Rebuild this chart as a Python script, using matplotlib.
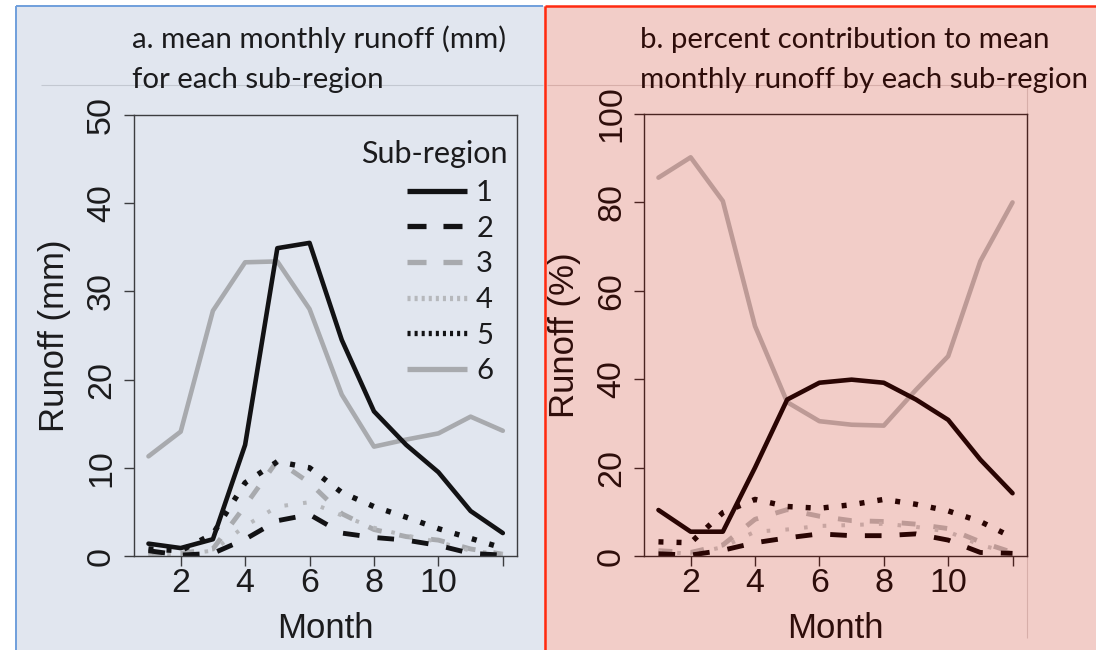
import matplotlib
matplotlib.use("Agg")
import matplotlib.pyplot as plt
from matplotlib.lines import Line2D
from matplotlib.patches import Rectangle

# ---------------------------------------------------------------- data
months = list(range(1, 13))
regions = ["1", "2", "3", "4", "5", "6"]

# mean monthly runoff (mm) per sub-region
mm_r1 = [1.4, 0.9, 1.9, 12.6, 34.9, 35.5, 24.5, 16.4, 12.6, 9.5, 5.1, 2.6]
mm_r2 = [0.6, 0.1, 0.3, 1.9, 4.0, 4.7, 2.6, 2.1, 1.8, 1.2, 0.3, 0.1]
mm_r3 = [0.3, 0.3, 0.8, 5.7, 10.8, 8.3, 4.8, 3.0, 2.2, 1.8, 0.8, 0.2]
mm_r4 = [0.2, 0.2, 0.6, 3.4, 5.6, 6.1, 4.6, 3.2, 2.3, 1.6, 0.6, 0.2]
mm_r5 = [0.8, 0.6, 2.5, 8.3, 10.7, 10.0, 7.2, 5.6, 4.4, 3.1, 2.0, 0.9]
mm_r6 = [11.3, 14.1, 27.8, 33.3, 33.4, 28.0, 18.3, 12.4, 13.2, 13.9, 15.8, 14.2]

# percent contribution to mean monthly runoff per sub-region
pct_r1 = [10.4, 5.5, 5.5, 20.0, 35.4, 39.2, 39.9, 39.2, 35.4, 30.8, 21.8, 14.2]
pct_r2 = [0.5, 0.2, 1.3, 3.0, 4.1, 5.0, 4.6, 4.6, 5.0, 3.6, 0.8, 0.6]
pct_r3 = [1.2, 0.8, 2.5, 8.3, 10.5, 9.0, 8.0, 7.8, 7.2, 6.2, 3.2, 0.8]
pct_r4 = [1.0, 0.5, 2.0, 5.5, 6.0, 6.8, 7.0, 7.3, 6.6, 5.5, 2.5, 0.6]
pct_r5 = [3.2, 3.0, 9.8, 12.8, 11.2, 10.8, 11.6, 12.8, 11.7, 10.2, 7.8, 4.2]
pct_r6 = [85.6, 90.2, 80.3, 52.0, 34.8, 30.5, 29.7, 29.5, 37.6, 45.2, 66.7, 80.0]

x_ticks = [2, 4, 6, 8, 10, 12]
x_tick_labels = ["2", "4", "6", "8", "10", ""]
y_ticks_mm = [0, 10, 20, 30, 40, 50]
y_ticks_pct = [0, 20, 40, 60, 80, 100]

title_a = ["a. mean monthly runoff (mm)", "for each sub-region"]
title_b = ["b. percent contribution to mean", "monthly runoff by each sub-region"]
x_label = "Month"
y_label_a = "Runoff (mm)"
y_label_b = "Runoff (%)"
legend_title = "Sub-region"

# ---------------------------------------------------------------- layout
W, H, DPI = 1096, 650, 100
plt.rcParams["lines.scale_dashes"] = False
AX_FONT = ["Liberation Sans", "DejaVu Sans"]
TX_FONT = ["Lato", "DejaVu Sans"]


def fx(px):
    return px / W


def fy(py):
    return 1.0 - py / H


fig = plt.figure(figsize=(W / DPI, H / DPI), dpi=DPI, facecolor="white")

BG_A, BG_B = "#e1e6ef", "#f2cdc8"
fig.patches.append(Rectangle((fx(16), 0), fx(544) - fx(16), fy(6), transform=fig.transFigure,
                             facecolor=BG_A, edgecolor="none", zorder=-10))
fig.patches.append(Rectangle((fx(544), 0), 1 - fx(544), fy(6), transform=fig.transFigure,
                             facecolor=BG_B, edgecolor="none", zorder=-10))


def fline(xs, ys, color, lw):
    fig.add_artist(Line2D([fx(v) for v in xs], [fy(v) for v in ys], transform=fig.transFigure,
                          color=color, lw=lw, solid_capstyle="butt", zorder=-5))


# faint frame of the pasted figures
fline([41, 543], [85, 85], "#c3c8d1", 0.8)
fline([547, 1027], [85, 85], "#d7aea9", 0.8)
fline([1027, 1027], [85, 638], "#d7aea9", 0.8)
# panel borders
fline([16, 16], [6, 650], "#6f9fdc", 1.4)
fline([16, 543], [6, 6], "#6f9fdc", 1.4)
fline([545, 545], [6, 650], "#ff2a10", 1.8)
fline([545, 1096], [6, 6], "#ff2a10", 1.8)

# line styles: (dashes in points or None, linewidth)
styles = {
    "1": (None, 3.3),
    "2": ((12.0, 13.0), 3.5),
    "3": ((10.0, 13.0), 3.5),
    "4": ((2.6, 10.9), 2.9),
    "5": ((3.6, 9.4), 3.9),
    "6": (None, 3.3),
}
legend_dashes = {"2": (13.7, 12.2), "3": (13.7, 12.2), "4": (2.2, 2.9), "5": (2.2, 2.9)}


def panel(box, series, yticks, ylim, pal, ylab, show_legend):
    left, top, right, bottom = box
    ax = fig.add_axes([fx(left), fy(bottom), fx(right) - fx(left), fy(top) - fy(bottom)])
    ax.set_zorder(2)
    ax.set_facecolor("none")
    order = ["6", "3", "4", "2", "5", "1"]
    for key in order:
        dashes, lw = styles[key]
        col = pal["line"][key]
        if dashes is None:
            ax.plot(months, series[key], color=col, lw=lw, solid_joinstyle="round",
                    solid_capstyle="round")
        else:
            ax.plot(months, series[key], color=col, lw=lw, dashes=dashes,
                    dash_capstyle="butt", dash_joinstyle="round")
    ax.set_xlim(0.56, 12.44)
    ax.set_ylim(*ylim)
    ax.set_xticks(x_ticks)
    ax.set_xticklabels(x_tick_labels, family=AX_FONT)
    ax.set_yticks(yticks)
    ax.set_yticklabels([str(v) for v in yticks], rotation=90, va="center", family=AX_FONT)
    for sp in ax.spines.values():
        sp.set_color(pal["axis"])
        sp.set_linewidth(1.0)
    ax.tick_params(axis="both", direction="out", length=7.4, width=1.0,
                   colors=pal["axis"], labelcolor=pal["ink"], labelsize=24.5)
    ax.tick_params(axis="x", pad=1.5)
    ax.tick_params(axis="y", pad=5.0)

    cx = (left + right) / 2
    fig.text(fx(cx), fy(638), x_label, ha="center", va="baseline", fontsize=25,
             family=AX_FONT, color=pal["ink"])
    fig.text(fx(left - 80), fy((top + bottom) / 2), ylab, rotation=90, ha="center",
             va="center", fontsize=25, family=AX_FONT, color=pal["ink"])

    if show_legend:
        handles = []
        for key in regions:
            dashes, _ = styles[key]
            col = pal["line"][key]
            if dashes is None:
                handles.append(Line2D([], [], color=col, lw=3.8, solid_capstyle="butt"))
            else:
                handles.append(Line2D([], [], color=col, lw=3.8, dashes=legend_dashes[key],
                                      dash_capstyle="butt"))
        ax.legend(handles, regions, loc="upper left",
                  bbox_to_anchor=(fx(407), fy(180)), bbox_transform=fig.transFigure,
                  frameon=False, borderpad=0, borderaxespad=0, handlelength=2.05,
                  handletextpad=0.32, labelspacing=0.33,
                  prop={"family": TX_FONT, "size": 21}, labelcolor=pal["ink"])
        fig.text(fx(507.5), fy(163), legend_title, ha="right", va="baseline",
                 fontsize=22, family=TX_FONT, color=pal["ink"], zorder=3)
    return ax


pal_a = {
    "ink": "#1b1b1d", "axis": "#3c3d40",
    "line": {"1": "#121214", "2": "#121214", "3": "#a8aaae", "4": "#b6b8bc",
             "5": "#121214", "6": "#a8aaae"},
}
pal_b = {
    "ink": "#2e0d0a", "axis": "#4a2421",
    "line": {"1": "#2a0503", "2": "#2a0503", "3": "#bd9a96", "4": "#c8a5a1",
             "5": "#2a0503", "6": "#bd9a96"},
}

series_a = dict(zip(regions, [mm_r1, mm_r2, mm_r3, mm_r4, mm_r5, mm_r6]))
series_b = dict(zip(regions, [pct_r1, pct_r2, pct_r3, pct_r4, pct_r5, pct_r6]))

panel((134.3, 115, 517, 556), series_a, y_ticks_mm, (0, 50), pal_a, y_label_a, True)
panel((644.3, 114, 1026.7, 556), series_b, y_ticks_pct, (0, 100), pal_b, y_label_b, False)

# panel titles, sized so the longest line spans its measured width
renderer = fig.canvas.get_renderer()
probe = fig.text(0, 0, title_b[1], fontsize=20, family=TX_FONT)
title_size = 20 * 448 / probe.get_window_extent(renderer).width
probe.remove()

for lines, x0, ink in ((title_a, 132, pal_a["ink"]), (title_b, 640, pal_b["ink"])):
    for line, base in zip(lines, (48, 88)):
        fig.text(fx(x0), fy(base), line, ha="left", va="baseline", fontsize=title_size,
                 family=TX_FONT, color=ink)

fig.savefig("out.png", dpi=DPI, facecolor="white")
